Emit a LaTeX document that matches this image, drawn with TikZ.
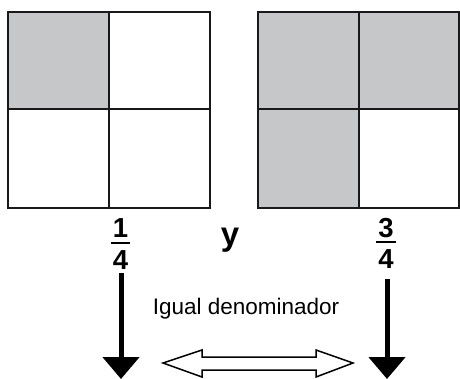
\documentclass[tikz,border=0pt]{standalone}
\usepackage{fontspec}
\setmainfont{Liberation Sans}
\usetikzlibrary{arrows.meta}
\definecolor{cellgray}{HTML}{C6C7C8}
\tikzset{
  gridline/.style={line width=2pt, draw=black!90},
  fracnum/.style={font=\fontsize{27.5}{28}\selectfont\bfseries, inner sep=0pt, anchor=base},
  fracbar/.style={line width=2.2pt},
  downarrow/.style={line width=5pt, -{Triangle[width=36pt,length=22pt]}},
  lbl/.style={font=\fontsize{22.5}{24}\selectfont, inner sep=0pt, anchor=base}
}
\begin{document}
\begin{tikzpicture}[x=1pt,y=-1pt]
\useasboundingbox (0,0) rectangle (460,379);
% left square: 1/4
\fill[cellgray] (8,12) rectangle (109,109);
\draw[gridline] (8,12) rectangle (210,208);
\draw[gridline] (109,12) -- (109,208);
\draw[gridline] (8,109) -- (210,109);
% right square: 3/4
\fill[cellgray] (258,12) rectangle (459,109);
\fill[cellgray] (258,109) rectangle (359,208);
\draw[gridline] (258,12) rectangle (459,208);
\draw[gridline] (359,12) -- (359,208);
\draw[gridline] (258,109) -- (459,109);
% fractions
\node[fracnum] (n1) at (120.5,237.5) {1};
\draw[fracbar] (111,243) -- (130,243);
\node[fracnum] (d1) at (120.5,269.5) {4};
\node[fracnum] (n2) at (386,237.5) {3};
\draw[fracbar] (376,242) -- (396,242);
\node[fracnum] (d2) at (386,268.5) {4};
% y
\node[font=\fontsize{33}{33}\selectfont\bfseries, inner sep=0pt, anchor=base] (y) at (230,246) {y};
% label
\node[lbl] (lab) at (246,314) {Igual denominador};
% down arrows
\coordinate (a1s) at (121,273);
\coordinate (a1e) at (121,379);
\coordinate (a2s) at (387,279);
\coordinate (a2e) at (387,379);
\draw[downarrow] (a1s) -- (a1e);
\draw[downarrow] (a2s) -- (a2e);
% double outline arrow
\draw[line width=1.5pt, fill=white, line join=miter]
  (163,363) -- (202,350) -- (202,357) -- (316,357) -- (316,350) -- (353,363)
  -- (316,377) -- (316,370) -- (202,370) -- (202,377) -- cycle;
\end{tikzpicture}
\end{document}
